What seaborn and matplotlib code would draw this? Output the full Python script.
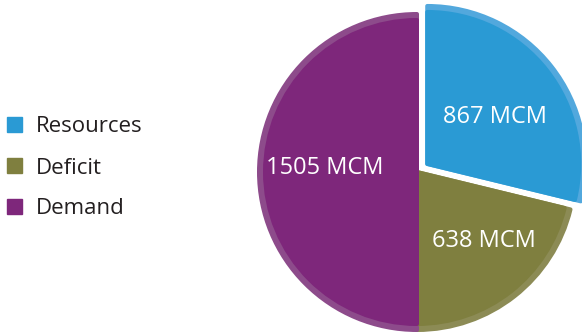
import matplotlib
matplotlib.use("Agg")
import numpy as np
import matplotlib.pyplot as plt
from matplotlib.patches import Patch
import seaborn as sns

# Water balance, million cubic metres
categories = ["Resources", "Deficit", "Demand"]
values = [867, 638, 1505]
colors = ["#2A9AD4", "#7F7F3F", "#7E277B"]
rim_colors = ["#52A8DD", "#8C8B55", "#8D4B8B"]

sns.set_theme(style="white")
plt.rcParams["font.family"] = ["Open Sans", "DejaVu Sans"]

W, H, DPI = 582, 336, 100
fig = plt.figure(figsize=(W / DPI, H / DPI), dpi=DPI)
ax = fig.add_axes([0, 0, 1, 1])

center = (417, H - 172)
r_outer = 158     # plus a 2 px stroke -> 160 px
r_inner = 152     # plus a 2 px stroke -> 154 px
shift_px = 13     # offset of the Resources slice (data units = px)
pt = 72 / DPI     # points per pixel
stroke = dict(linewidth=4 * pt, joinstyle="round")

total = sum(values)
explode = [shift_px, 0, 0]

# Lighter rim with rounded outer corners
outer, _ = ax.pie(values, radius=r_outer, center=center, startangle=90,
                  counterclock=False, colors=rim_colors, explode=explode,
                  wedgeprops=stroke)
for w, c in zip(outer, rim_colors):
    w.set_edgecolor(c)

# Main fill with value labels
inner, _, autotexts = ax.pie(
    values, radius=r_inner, center=center, startangle=90,
    counterclock=False, colors=colors, explode=explode,
    autopct=lambda p: f"{round(p * total / 100)} MCM",
    wedgeprops=stroke,
    textprops=dict(color="white", fontsize=17),
)
for w, c in zip(inner, colors):
    w.set_edgecolor(c)

# Place each value label inside its slice: radial fraction and angular nudge
label_radius = [0.54, 0.63, 0.61]
label_nudge_deg = [-3.5, 6.0, -2.5]
for w, t, fr, nd in zip(inner, autotexts, label_radius, label_nudge_deg):
    ang = np.deg2rad(0.5 * (w.theta1 + w.theta2) + nd)
    cx, cy = w.center
    t.set_position((cx + fr * w.r * np.cos(ang), cy + fr * w.r * np.sin(ang)))

ax.set_xlim(0, W)
ax.set_ylim(0, H)
ax.set_aspect("equal")
ax.axis("off")

handles = [Patch(facecolor=c, edgecolor=c, label=l) for c, l in zip(colors, categories)]
leg = ax.legend(handles=handles, loc="center left",
                bbox_to_anchor=(7 / W, 1 - 168 / H), frameon=False,
                fontsize=16, handlelength=0.68, handleheight=0.68,
                handletextpad=0.6, labelspacing=0.9,
                borderpad=0, borderaxespad=0)
for t in leg.get_texts():
    t.set_color("#231F20")

fig.savefig("out.png", dpi=DPI)
